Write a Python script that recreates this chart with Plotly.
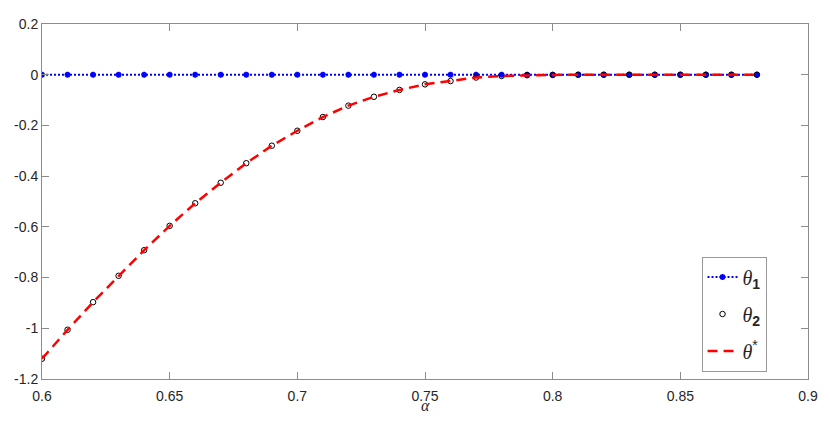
import plotly.graph_objects as go

alpha = [0.60, 0.61, 0.62, 0.63, 0.64, 0.65, 0.66, 0.67, 0.68, 0.69,
         0.70, 0.71, 0.72, 0.73, 0.74, 0.75, 0.76, 0.77, 0.78, 0.79,
         0.80, 0.81, 0.82, 0.83, 0.84, 0.85, 0.86, 0.87, 0.88]
theta1 = [0.0] * 29
theta2 = [-1.120, -1.006, -0.897, -0.793, -0.692, -0.596, -0.507, -0.426, -0.349, -0.280,
          -0.221, -0.167, -0.122, -0.087, -0.060, -0.038, -0.025, -0.011, -0.005, -0.002,
          -0.001, 0.0, 0.0, 0.0, 0.0, 0.0, 0.0, 0.0, 0.0]
theta_star = [-1.120, -1.006, -0.897, -0.793, -0.692, -0.596, -0.507, -0.426, -0.349, -0.280,
              -0.221, -0.167, -0.122, -0.087, -0.060, -0.038, -0.025, -0.011, -0.005, -0.002,
              -0.001, 0.0, 0.0, 0.0, 0.0, 0.0, 0.0, 0.0, 0.0]
xticks = [0.6, 0.65, 0.7, 0.75, 0.8, 0.85, 0.9]
xticklabels = ["0.6", "0.65", "0.7", "0.75", "0.8", "0.85", "0.9"]
yticks = [0.2, 0, -0.2, -0.4, -0.6, -0.8, -1, -1.2]
yticklabels = ["0.2", "0", "-0.2", "-0.4", "-0.6", "-0.8", "-1", "-1.2"]
xlabel = "α"

SERIF = "Liberation Serif"
def th(sub=None, sup=None):
    s = f"<span style='font-family:{SERIF}'><i>θ</i></span>"
    if sub:
        s += f"<sub><b>{sub}</b></sub>"
    if sup:
        s += f"<sup>{sup}</sup>"
    return s

fig = go.Figure()
fig.add_trace(go.Scatter(
    x=alpha, y=theta1, mode="lines+markers", name=th(sub="1"),
    line=dict(color="#0000ff", width=2, dash="2px,2px"),
    marker=dict(symbol="asterisk-open", size=5, color="#0000ff",
                line=dict(color="#0000ff", width=1.8)),
    legendgroup="a"))
fig.add_trace(go.Scatter(
    x=alpha, y=theta2, mode="markers", name=th(sub="2"),
    marker=dict(symbol="circle-open", size=5.5, color="#000000",
                line=dict(color="#1a1a1a", width=1)),
    legendgroup="b"))
fig.add_trace(go.Scatter(
    x=alpha, y=theta_star, mode="lines", name=th(sup="*"),
    line=dict(color="#ff0000", width=2.5, dash="10px,6px"),
    legendgroup="c"))

axis_common = dict(
    showline=True, linecolor="#8c8c8c", linewidth=1, mirror="ticks",
    ticks="inside", ticklen=7, tickcolor="#8c8c8c", tickwidth=1,
    showgrid=False, zeroline=False,
    tickfont=dict(family="Liberation Sans", size=14, color="#262626"),
)

fig.update_xaxes(range=[0.6, 0.9], tickvals=xticks, ticktext=xticklabels,
                 ticklabelstandoff=4, **axis_common)
fig.update_yaxes(range=[-1.2, 0.2], tickvals=yticks, ticktext=yticklabels,
                 **axis_common)

fig.add_annotation(text=f"<i>{xlabel}</i>", xref="paper", yref="paper",
                   x=0.5, y=0, xanchor="center", yanchor="middle", yshift=-26,
                   showarrow=False,
                   font=dict(family=SERIF, size=16, color="#262626"))

# page body adds an 8px offset; figure sized to fit the 830x423 window
fig.update_layout(
    width=814, height=407,
    margin=dict(l=34, r=14, t=16, b=36, autoexpand=False),
    plot_bgcolor="white", paper_bgcolor="white",
    showlegend=True,
    legend=dict(x=0.861, y=0.345, xanchor="left", yanchor="top",
                bgcolor="white", bordercolor="#999999", borderwidth=1,
                font=dict(family="Liberation Sans", size=20, color="#262626"),
                itemwidth=30, tracegroupgap=8, traceorder="grouped"),
)

fig.write_html("out.html")
